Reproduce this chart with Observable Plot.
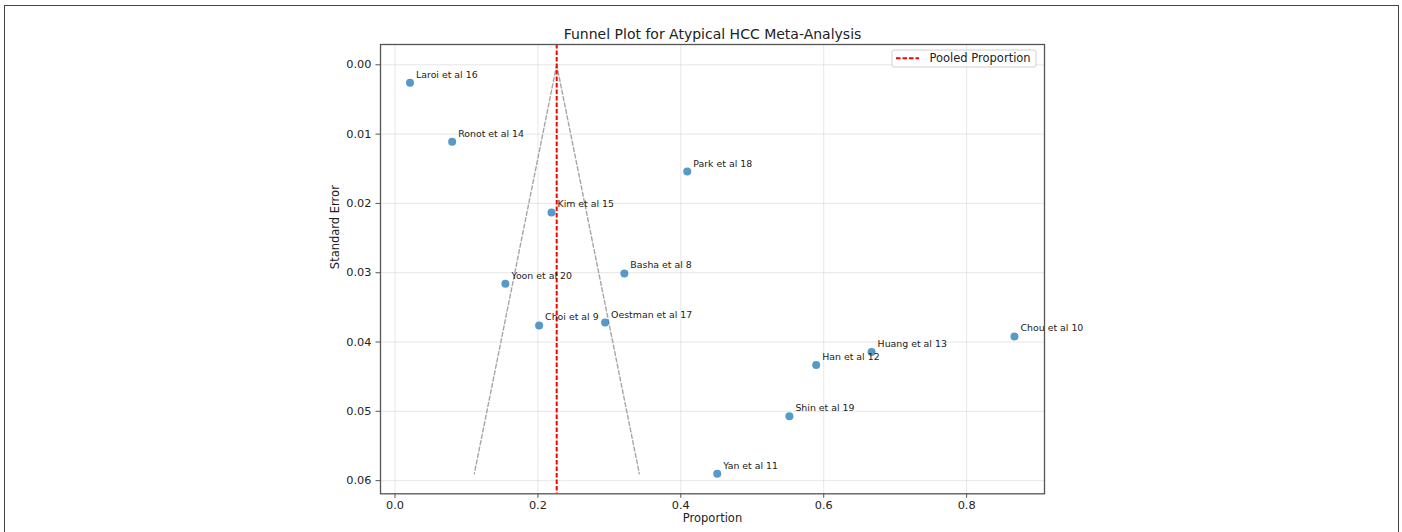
<!DOCTYPE html>
<html>
<head>
<meta charset="utf-8">
<script src="https://cdn.jsdelivr.net/npm/d3@7"></script>
<script src="https://cdn.jsdelivr.net/npm/@observablehq/plot@0.6"></script>
<style>
  html, body { margin: 0; padding: 0; background: #fff; }
  #wrap { position: relative; width: 1402px; height: 532px; overflow: hidden; }
  #border { position: absolute; left: 4px; top: 4.5px; width: 1393px; height: 600px;
            border: 1.5px solid #444; border-bottom: none; pointer-events: none; }
  #chart { position: absolute; left: 0; top: 0; }
</style>
</head>
<body>
<div id="wrap"><div id="chart"></div><div id="border"></div></div>
<script>
// ---- data ----
const studies = ["Laroi et al 16", "Ronot et al 14", "Kim et al 15", "Park et al 18", "Basha et al 8",
  "Yoon et al 20", "Choi et al 9", "Oestman et al 17", "Chou et al 10", "Huang et al 13",
  "Han et al 12", "Shin et al 19", "Yan et al 11"];
const proportion = [0.021, 0.080, 0.219, 0.409, 0.321, 0.1545, 0.2017, 0.294, 0.867, 0.667, 0.5895, 0.552, 0.451];
const standardError = [0.0026, 0.0111, 0.0213, 0.0154, 0.0301, 0.0316, 0.0376, 0.0372, 0.0392, 0.04145, 0.0433, 0.0507, 0.0590];
const pooledProportion = 0.2263;
const funnelSE = [0, 0.059];
const funnelLeftX = [0.2263, 0.111];
const funnelRightX = [0.2263, 0.342];
const xTicks = [0, 0.2, 0.4, 0.6, 0.8];
const yTicks = [0, 0.01, 0.02, 0.03, 0.04, 0.05, 0.06];
const titleText = "Funnel Plot for Atypical HCC Meta-Analysis";
const xLabel = "Proportion";
const yLabel = "Standard Error";
const legendLabel = "Pooled Proportion";

// ---- tables built from arrays ----
const points = studies.map((s, i) => ({study: s, p: proportion[i], se: standardError[i]}));
const funnel = [
  ...funnelSE.map((s, i) => ({side: "left", p: funnelLeftX[i], se: s})),
  ...funnelSE.map((s, i) => ({side: "right", p: funnelRightX[i], se: s}))
];

const W = 1402, H = 532;
const mL = 380, mR = 358, mT = 44, mB = 38.7;

const plot = Plot.plot({
  width: W,
  height: H,
  marginLeft: mL,
  marginRight: mR,
  marginTop: mT,
  marginBottom: mB,
  style: {fontFamily: "DejaVu Sans", fontSize: "11.3px", background: "#fff", color: "#222"},
  x: {domain: [-0.0203, 0.909]},
  y: {domain: [-0.00293, 0.0619], reverse: true},
  marks: [
    Plot.gridX(xTicks, {stroke: "#b0b0b0", strokeOpacity: 0.3, strokeWidth: 1}),
    Plot.gridY(yTicks, {stroke: "#b0b0b0", strokeOpacity: 0.3, strokeWidth: 1}),
    Plot.line(funnel, {x: "p", y: "se", z: "side", stroke: "#a6a6a6", strokeWidth: 1.4, strokeDasharray: "4,2.5"}),
    Plot.ruleX([pooledProportion], {stroke: "#ff0000", strokeWidth: 2, strokeDasharray: "4.5,2"}),
    Plot.dot(points, {x: "p", y: "se", r: 4, fill: "#1f77b4", fillOpacity: 0.75, stroke: "none"}),
    Plot.text(points, {x: "p", y: "se", text: "study", dx: 6, dy: -5, textAnchor: "start",
      lineAnchor: "bottom", fontSize: 9.4, fill: "#222"}),
    Plot.frame({stroke: "#555", strokeWidth: 1.3}),
    Plot.axisX(xTicks, {tickFormat: d3.format(".1f"), tickSize: 4.5, tickPadding: 3, stroke: "#555",
      fill: "#222", fontSize: 11.3, label: null}),
    Plot.axisY(yTicks, {tickFormat: d3.format(".2f"), tickSize: 4.5, tickPadding: 4.5, stroke: "#555",
      fill: "#222", fontSize: 11.3, label: null}),
    Plot.text([titleText], {text: d => d, frameAnchor: "top", dy: -5.7, lineAnchor: "bottom",
      fontSize: 14, fill: "#222"}),
    Plot.text([xLabel], {text: d => d, frameAnchor: "bottom", dy: 28.5, lineAnchor: "bottom",
      fontSize: 11.5, fill: "#222"}),
    Plot.text([yLabel], {text: d => d, frameAnchor: "left", dx: -41.5, rotate: -90, lineAnchor: "bottom",
      fontSize: 11.5, fill: "#222"})
  ]
});

// ---- legend (inside the axes, upper right) ----
const svg = d3.select(plot);
const right = W - mR;
const lg = svg.append("g").attr("font-family", "DejaVu Sans").attr("text-anchor", "start");
const bx = right - 8 - 144, by = mT + 6;
lg.append("rect").attr("x", bx).attr("y", by).attr("width", 144).attr("height", 17)
  .attr("rx", 2).attr("fill", "#fff").attr("fill-opacity", 0.85).attr("stroke", "#d0d0d0");
lg.append("line").attr("x1", bx + 4).attr("x2", bx + 27).attr("y1", by + 8.3).attr("y2", by + 8.3)
  .attr("stroke", "#ff0000").attr("stroke-width", 2).attr("stroke-dasharray", "4.5,2");
lg.append("text").attr("x", bx + 37.5).attr("y", by + 12.3).attr("font-size", 11.5)
  .attr("text-anchor", "start").attr("fill", "#222").text(legendLabel);

document.getElementById("chart").appendChild(plot);
</script>
</body>
</html>
